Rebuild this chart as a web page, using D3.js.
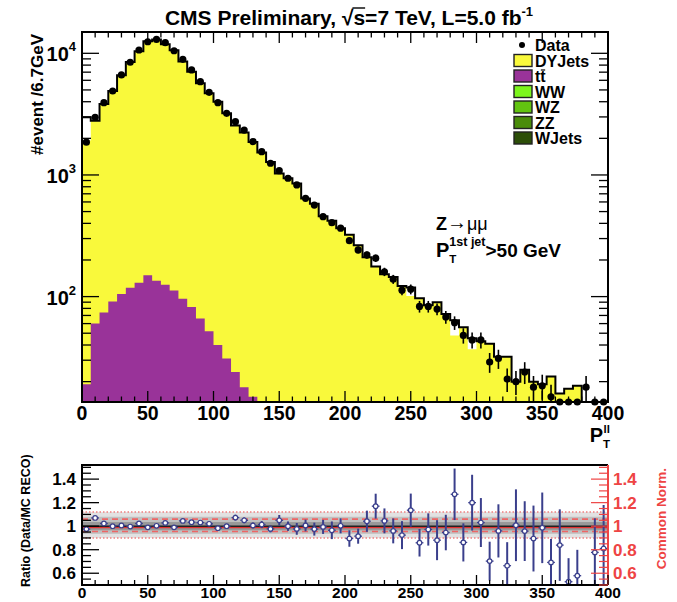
<!DOCTYPE html>
<html><head><meta charset="utf-8">
<script src="https://cdn.jsdelivr.net/npm/d3@7"></script>
<style>
body{margin:0;background:#fff}
text{font-family:"Liberation Sans",Arial,Helvetica,sans-serif;font-weight:bold}
</style>
</head><body>
<svg id="c" width="677" height="602"></svg>
<script>
// ---------------- data ----------------
const binCount = 60, xLo = 0, xHi = 400;
const xTickValues = [0, 50, 100, 150, 200, 250, 300, 350, 400];
const yDecades = [100, 1000, 10000];
const yDecadeExp = ["2", "3", "4"];
const ratioTickValues = [0.6, 0.8, 1.0, 1.2, 1.4];
const ratioTickLabels = ["0.6", "0.8", "1", "1.2", "1.4"];

const dataCounts = [1860, 2980, 3930, 4900, 6640, 8440, 10650, 12450, 13000, 12220,
  10500, 8930, 7300, 5850, 4780, 3930, 3210, 2740, 2340, 1880,
  1555, 1248, 1085, 940, 828, 643, 566, 454, 405, 365,
  288, 242, 220, 207, 160, 139, 113, 115, 83, 83,
  79, 68, 61, 48, 44, 44, 29, 31, 21, 20,
  24, 18, 18.5, 15, 9, 8, 9, 18, 8, 9];

// yellow stack top (DYJets + tt + others)
const mcStack = [1920, 2785, 3840, 4900, 6600, 8470, 10400, 12580, 12960, 11890,
  10600, 8550, 7060, 5680, 4690, 4000, 3210, 2550, 2230, 1870,
  1530, 1280, 1030, 940, 850, 640, 580, 457, 420, 364,
  322, 264, 211, 177, 153, 145, 122, 101, 97, 85,
  90, 72, 48, 56, 37, 43, 41, 32, 32, 20,
  25, 20, 19, 22, 16, 17.5, 18.5, 0, 12, 12];

// black outline histogram
const mcOutline = [2980, 2785, 3840, 4900, 6600, 8470, 10400, 12580, 12960, 11890,
  10600, 8550, 7060, 5680, 4690, 4000, 3210, 2550, 2230, 1870,
  1530, 1280, 1030, 940, 850, 640, 580, 457, 420, 364,
  322, 264, 211, 177, 153, 145, 122, 119, 97, 85,
  90, 72, 64, 56, 45.5, 43, 41, 32, 32, 20,
  25, 20, 19, 22, 16, 17.5, 18.5, 0, 12, 12];

const ttbar = [19, 60, 74, 91, 105, 118, 130, 150, 135, 125,
  112, 96, 82, 66, 52, 40, 31, 24, 18, 15,
  0, 0, 0, 0, 0, 0, 0, 0, 0, 0, 0, 0, 0, 0, 0, 0, 0, 0, 0, 0,
  0, 0, 0, 0, 0, 0, 0, 0, 0, 0, 0, 0, 0, 0, 0, 0, 0, 0, 0, 0];

const ratio = [0.975, 1.07, 1.023, 1.0, 1.006, 0.997, 1.023, 0.99, 1.003, 1.028,
  0.99, 1.045, 1.034, 1.031, 1.02, 0.983, 1.0, 1.073, 1.05, 1.006,
  1.014, 0.977, 1.05, 1.0, 0.977, 1.006, 0.975, 0.994, 0.965, 1.003,
  0.895, 0.915, 1.042, 1.17, 1.045, 0.96, 0.924, 1.136, 0.859, 0.972,
  0.881, 0.946, 1.271, 0.862, 1.2, 1.031, 0.703, 0.96, 0.664, 1.008,
  0.958, 0.895, 0.986, 0.692, 0.839, 0.528, 0.579, null, 0.777, 0.81];
const ratioErr = [0.015, 0.015, 0.015, 0.015, 0.015, 0.012, 0.012, 0.012, 0.012, 0.012,
  0.012, 0.015, 0.015, 0.015, 0.018, 0.018, 0.02, 0.025, 0.025, 0.025,
  0.03, 0.03, 0.045, 0.04, 0.05, 0.05, 0.055, 0.06, 0.075, 0.064,
  0.07, 0.064, 0.09, 0.106, 0.106, 0.106, 0.119, 0.141, 0.117, 0.137,
  0.17, 0.151, 0.219, 0.162, 0.237, 0.208, 0.165, 0.226, 0.2, 0.305,
  0.254, 0.28, 0.3, 0.2, 0.304, 0.2, 0.22, 0, 0.29, 0.37];

// ratio panel bands
const bandOuter = [0.9, 1.12];
const bandMid = [0.935, 1.08];
const bandInner = [0.965, 1.035];
const dashedLevels = [0.955, 1.06];
const dottedLevels = [0.9, 1.12];

const legendItems = [
  {name: "Data", type: "dot"},
  {name: "DYJets", color: "#f9f93b"},
  {name: "tt", color: "#993399", bar: true},
  {name: "WW", color: "#7cf51c"},
  {name: "WZ", color: "#62c410"},
  {name: "ZZ", color: "#4a8c0a"},
  {name: "WJets", color: "#2c4e08"}
];

// ---------------- layout ----------------
const P = {l: 82, r: 608, t: 32, b: 402};
const R = {l: 82, r: 608, t: 465, b: 585};
const RED = "#ee4444";
const NAVY = "#3a3f8c";
const YELLOW = "#f9f93b", PURPLE = "#993399";

const svg = d3.select("#c");
const binW = (xHi - xLo) / binCount;
const x = d3.scaleLinear([xLo, xHi], [P.l, P.r]);
const y = d3.scaleLog([13.6, 14970], [P.b, P.t]).clamp(true);
const yr = d3.scaleLinear([0.5, 1.52], [R.b, R.t]);

const defs = svg.append("defs");
defs.append("clipPath").attr("id", "clipTop").append("rect")
  .attr("x", P.l).attr("y", P.t).attr("width", P.r - P.l).attr("height", P.b - P.t);
defs.append("clipPath").attr("id", "clipRat").append("rect")
  .attr("x", R.l).attr("y", R.t).attr("width", R.r - R.l).attr("height", R.b - R.t);

const safe = v => Math.max(v, 1e-3);
function stepPts(vals) {
  const pts = vals.map((v, i) => [xLo + i * binW, v]);
  pts.push([xHi, vals[vals.length - 1]]);
  return pts;
}

// ---------------- top panel ----------------
const gTop = svg.append("g").attr("clip-path", "url(#clipTop)");
const area = d3.area().x(d => x(d[0])).y0(P.b).y1(d => y(safe(d[1]))).curve(d3.curveStepAfter);
gTop.append("path").attr("d", area(stepPts(mcStack))).attr("fill", YELLOW);
gTop.append("path").attr("d", area(stepPts(ttbar))).attr("fill", PURPLE);

const line = d3.line().x(d => x(d[0])).y(d => y(safe(d[1]))).curve(d3.curveStepAfter);
const outPts = [[xLo, 1e-3]].concat(stepPts(mcOutline)).concat([[xHi, 1e-3]]);
gTop.append("path").attr("d", line(outPts)).attr("fill", "none")
  .attr("stroke", "#000").attr("stroke-width", 2);

// data points
const gData = svg.append("g");
dataCounts.forEach((d, i) => {
  const cx = x(xLo + (i + 0.5) * binW);
  const e = Math.sqrt(d);
  gData.append("line").attr("x1", cx).attr("x2", cx)
    .attr("y1", y(d + e)).attr("y2", y(safe(d - e)))
    .attr("stroke", "#000").attr("stroke-width", 1.6);
  gData.append("circle").attr("cx", cx).attr("cy", y(d)).attr("r", 3.6).attr("fill", "#000");
});

// frame + ticks
function frame(F, color) {
  svg.append("rect").attr("x", F.l).attr("y", F.t).attr("width", F.r - F.l).attr("height", F.b - F.t)
    .attr("fill", "none").attr("stroke", color || "#000").attr("stroke-width", 2);
}
function tick(x1, y1, x2, y2, c, w) {
  svg.append("line").attr("x1", x1).attr("y1", y1).attr("x2", x2).attr("y2", y2)
    .attr("stroke", c || "#000").attr("stroke-width", w || 1.3);
}
frame(P);
d3.range(xLo, xHi + 0.1, 10).forEach(v => {
  const major = v % 50 === 0, L = major ? 11 : 5.5;
  tick(x(v), P.b, x(v), P.b - L);
  tick(x(v), P.t, x(v), P.t + L);
});
const logTicks = [];
[10, 100, 1000, 10000].forEach(dec => {
  for (let k = 1; k <= 9; k++) {
    const v = k * dec;
    if (v >= 13.6 && v <= 14970) logTicks.push({v, major: k === 1});
  }
});
logTicks.forEach(t => {
  const L = t.major ? 17 : 9;
  tick(P.l, y(t.v), P.l + L, y(t.v));
  tick(P.r, y(t.v), P.r - L, y(t.v));
});

// y tick labels
yDecades.forEach((v, i) => {
  const t = svg.append("text").attr("x", 76).attr("y", y(v) + 8).attr("text-anchor", "end")
    .attr("font-size", 20);
  t.append("tspan").text("10");
  t.append("tspan").attr("font-size", 13).attr("dy", -10).text(yDecadeExp[i]);
});
// x tick labels
xTickValues.forEach(v => {
  svg.append("text").attr("x", x(v)).attr("y", 420).attr("text-anchor", "middle")
    .attr("font-size", 19.5).text(v);
});

// x axis title P_T^ll
(function () {
  const g = svg.append("g");
  const p = g.append("text").attr("x", 0).attr("y", 442).attr("font-size", 20).text("P");
  const wp = p.node().getComputedTextLength();
  const s1 = g.append("text").attr("x", wp).attr("y", 448).attr("font-size", 11.5).text("T");
  const s2 = g.append("text").attr("x", wp + 0.5).attr("y", 433).attr("font-size", 11.5).text("ll");
  const w = wp + Math.max(s1.node().getComputedTextLength(), s2.node().getComputedTextLength() + 0.5);
  g.attr("transform", `translate(${P.r + 2 - w},0)`);
})();

// y axis title
svg.append("text").attr("transform", "translate(43,34) rotate(-90)").attr("text-anchor", "end")
  .attr("font-size", 17).text("#event /6.7GeV");

// title
(function () {
  const t = svg.append("text").attr("x", 349).attr("y", 25).attr("text-anchor", "middle")
    .attr("font-size", 21);
  t.append("tspan").text("CMS Preliminary, \u221As=7 TeV, L=5.0 fb");
  t.append("tspan").attr("font-size", 13).attr("dy", -9).text("-1");
  const n = t.node();
  const idx = "CMS Preliminary, \u221A".length;
  const ex = n.getExtentOfChar(idx);
  const exr = n.getExtentOfChar(idx - 1);
  svg.append("line").attr("x1", exr.x + exr.width - 1).attr("x2", ex.x + ex.width)
    .attr("y1", ex.y + 2).attr("y2", ex.y + 2).attr("stroke", "#000").attr("stroke-width", 1.4);
})();

// legend
legendItems.forEach((it, i) => {
  const cy = 45 + i * 15.5;
  if (it.type === "dot") {
    svg.append("circle").attr("cx", 522).attr("cy", cy).attr("r", 3).attr("fill", "#000");
  } else {
    svg.append("rect").attr("x", 514).attr("y", cy - 6).attr("width", 18).attr("height", 12)
      .attr("fill", it.color).attr("stroke", "#222").attr("stroke-width", 1.4);
  }
  const t = svg.append("text").attr("x", 535).attr("y", cy + 6).attr("font-size", 16).text(it.name);
  if (it.bar) {
    const ex = t.node().getExtentOfChar(1);
    svg.append("line").attr("x1", ex.x + 0.5).attr("x2", ex.x + ex.width - 0.5)
      .attr("y1", ex.y + 2).attr("y2", ex.y + 2).attr("stroke", "#000").attr("stroke-width", 1.2);
  }
});

// annotation
(function () {
  const z = svg.append("text").attr("x", 436).attr("y", 230).attr("font-size", 18);
  z.append("tspan").text("Z");
  z.append("tspan").attr("font-size", 20).attr("dy", -1).text("\u2192");
  z.append("tspan").attr("font-weight", "normal").attr("dy", 1).text("\u03BC\u03BC");
  const p = svg.append("text").attr("x", 436).attr("y", 257).attr("font-size", 20).text("P");
  const wp = p.node().getComputedTextLength();
  svg.append("text").attr("x", 436 + wp).attr("y", 263).attr("font-size", 11.5).text("T");
  const s = svg.append("text").attr("x", 436 + wp).attr("y", 246).attr("font-size", 12.5).text("1st jet");
  const ws = s.node().getComputedTextLength();
  svg.append("text").attr("x", 436 + wp + ws).attr("y", 257).attr("font-size", 19).text(">50 GeV");
})();

// ---------------- ratio panel ----------------
const gR = svg.append("g").attr("clip-path", "url(#clipRat)");
function band(lv, col) {
  gR.append("rect").attr("x", R.l).attr("width", R.r - R.l)
    .attr("y", yr(lv[1])).attr("height", yr(lv[0]) - yr(lv[1])).attr("fill", col);
}
band(bandOuter, "#e2e2e2");
band(bandMid, "#c0c0c0");
band(bandInner, "#989898");
dottedLevels.forEach(v => gR.append("line").attr("x1", R.l).attr("x2", R.r).attr("y1", yr(v)).attr("y2", yr(v))
  .attr("stroke", "#f08080").attr("stroke-width", 1.4).attr("stroke-dasharray", "1.5,2"));
dashedLevels.forEach(v => gR.append("line").attr("x1", R.l).attr("x2", R.r).attr("y1", yr(v)).attr("y2", yr(v))
  .attr("stroke", "#ee6666").attr("stroke-width", 1.6).attr("stroke-dasharray", "6,4"));
gR.append("line").attr("x1", R.l).attr("x2", R.r).attr("y1", yr(1) + 1.4).attr("y2", yr(1) + 1.4)
  .attr("stroke", "#e03030").attr("stroke-width", 1.2);
gR.append("line").attr("x1", R.l).attr("x2", R.r).attr("y1", yr(1)).attr("y2", yr(1))
  .attr("stroke", "#222").attr("stroke-width", 1.6);

ratio.forEach((r, i) => {
  if (r === null) return;
  const x0 = x(xLo + i * binW), x1 = x(xLo + (i + 1) * binW), cx = (x0 + x1) / 2;
  const e = ratioErr[i];
  gR.append("line").attr("x1", cx).attr("x2", cx).attr("y1", yr(r + e)).attr("y2", yr(r - e))
    .attr("stroke", NAVY).attr("stroke-width", 2);
  gR.append("line").attr("x1", x0 + 0.5).attr("x2", x1 - 0.5).attr("y1", yr(r)).attr("y2", yr(r))
    .attr("stroke", NAVY).attr("stroke-width", 1.3);
  gR.append("circle").attr("cx", cx).attr("cy", yr(r)).attr("r", 2.3)
    .attr("fill", "#fff").attr("stroke", NAVY).attr("stroke-width", 1.2);
});

svg.append("path").attr("d", `M${R.r},${R.t}H${R.l}V${R.b}H${R.r}`)
  .attr("fill", "none").attr("stroke", "#000").attr("stroke-width", 2);
svg.append("line").attr("x1", R.r).attr("x2", R.r).attr("y1", R.t).attr("y2", R.b)
  .attr("stroke", RED).attr("stroke-width", 2);

d3.range(xLo, xHi + 0.1, 10).forEach(v => {
  const major = v % 50 === 0;
  tick(x(v), R.b, x(v), R.b - (major ? 10 : 5));
});
d3.range(0.5, 1.5201, 0.05).forEach(v => {
  const major = Math.abs(v * 5 - Math.round(v * 5)) < 1e-6;
  const L = major ? 17 : 9;
  tick(R.l, yr(v), R.l + L, yr(v));
  tick(R.r, yr(v), R.r - L, yr(v), RED, 1.2);
});
ratioTickValues.forEach((v, i) => {
  svg.append("text").attr("x", 76).attr("y", yr(v) + 6).attr("text-anchor", "end")
    .attr("font-size", 17).text(ratioTickLabels[i]);
  svg.append("text").attr("x", 613).attr("y", yr(v) + 6).attr("text-anchor", "start")
    .attr("font-size", 17).attr("fill", RED).text(ratioTickLabels[i]);
});
xTickValues.forEach(v => {
  svg.append("text").attr("x", x(v)).attr("y", 597.5).attr("text-anchor", "middle")
    .attr("font-size", 15.5).text(v);
});
svg.append("text").attr("transform", "translate(30,587) rotate(-90)").attr("text-anchor", "start")
  .attr("font-size", 12.5).text("Ratio (Data/MC RECO)");
svg.append("text").attr("transform", "translate(666,468) rotate(-90)").attr("text-anchor", "end")
  .attr("font-size", 13.5).attr("fill", RED).text("Common Norm.");
</script>
</body></html>
